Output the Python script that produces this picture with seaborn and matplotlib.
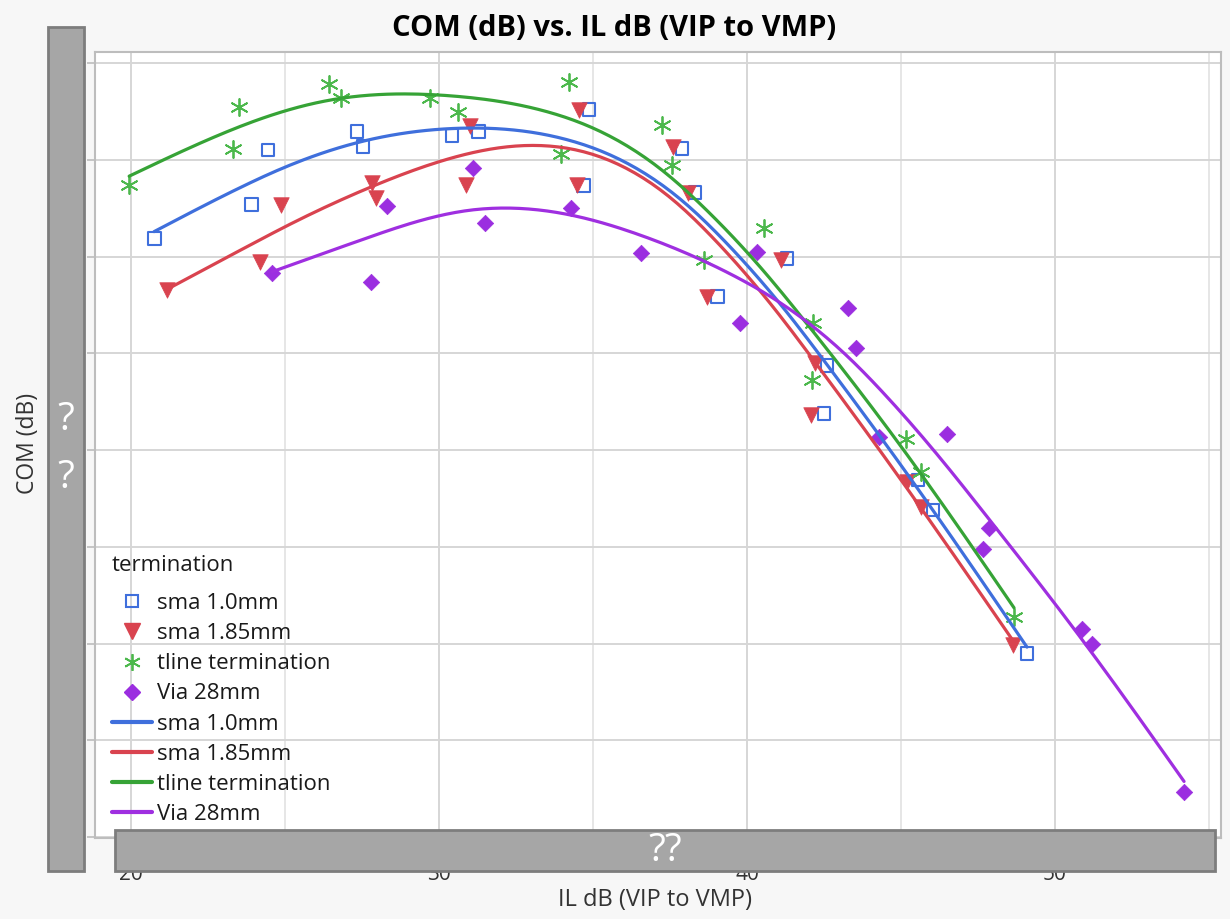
import numpy as np
import pandas as pd
import matplotlib
matplotlib.use("Agg")
import matplotlib.pyplot as plt
from matplotlib.lines import Line2D
from matplotlib.patches import Rectangle
import seaborn as sns

# ---------------- data ----------------
groups = ["sma 1.0mm", "sma 1.85mm", "tline termination", "Via 28mm"]

sma10_il = [20.75, 23.90, 24.45, 27.34, 27.53, 30.42, 31.27, 34.87, 34.68,
            37.89, 38.31, 41.30, 39.03, 42.60, 42.50, 45.55, 46.04, 49.09]
sma10_com = [6.19, 6.54, 7.10, 7.29, 7.14, 7.25, 7.29, 7.52, 6.73,
             7.12, 6.66, 5.98, 5.59, 4.87, 4.38, 3.69, 3.38, 1.90]

sma185_il = [21.17, 24.19, 24.87, 27.82, 27.95, 30.88, 31.01, 34.55, 34.48,
             37.60, 38.08, 41.10, 38.70, 42.21, 42.08, 45.19, 45.65, 48.64]
sma185_com = [5.65, 5.94, 6.53, 6.76, 6.60, 6.74, 7.35, 7.51, 6.74,
              7.13, 6.66, 5.96, 5.58, 4.90, 4.36, 3.67, 3.41, 1.98]

tline_il = [19.94, 23.31, 23.51, 26.43, 26.82, 29.71, 30.62, 33.96, 34.22,
            37.24, 37.56, 38.60, 40.55, 42.14, 42.11, 45.16, 45.65, 48.67]
tline_com = [6.74, 7.11, 7.55, 7.78, 7.64, 7.64, 7.49, 7.06, 7.80,
             7.36, 6.95, 5.96, 6.29, 5.31, 4.72, 4.11, 3.77, 2.27]

via_il = [24.58, 27.79, 28.31, 31.10, 31.49, 34.29, 36.56, 40.32, 39.77,
          43.28, 43.54, 44.29, 46.49, 47.86, 47.66, 50.88, 51.20, 54.19]
via_com = [5.83, 5.74, 6.52, 6.91, 6.35, 6.50, 6.04, 6.05, 5.31,
           5.47, 5.05, 4.13, 4.17, 3.19, 2.98, 2.15, 1.99, 0.47]

x_ticks = [20, 30, 40, 50]
y_ticks = [0, 1, 2, 3, 4, 5, 6, 7, 8]

series = {
    "sma 1.0mm": (sma10_il, sma10_com),
    "sma 1.85mm": (sma185_il, sma185_com),
    "tline termination": (tline_il, tline_com),
    "Via 28mm": (via_il, via_com),
}
df = pd.concat(
    [pd.DataFrame({"IL": v[0], "COM": v[1], "termination": k}) for k, v in series.items()],
    ignore_index=True,
)

SMOOTH_LAMBDA = 0.0009   # smoothing-spline penalty (x rescaled to 0..1)


def smoothing_spline(x, y, lam, n_grid=200):
    """Cubic smoothing spline (Reinsch form) fitted to the data points."""
    order = np.argsort(x)
    x = np.asarray(x, float)[order]
    y = np.asarray(y, float)[order]
    x0, x1 = x[0], x[-1]
    t = (x - x0) / (x1 - x0)
    n = len(t)
    h = np.diff(t)
    Q = np.zeros((n, n - 2))
    R = np.zeros((n - 2, n - 2))
    for j in range(1, n - 1):
        c = j - 1
        Q[j - 1, c] = 1 / h[j - 1]
        Q[j, c] = -1 / h[j - 1] - 1 / h[j]
        Q[j + 1, c] = 1 / h[j]
        R[c, c] = (h[j - 1] + h[j]) / 3
        if c + 1 < n - 2:
            R[c, c + 1] = h[j] / 6
            R[c + 1, c] = h[j] / 6
    gamma = np.linalg.solve(R + lam * Q.T @ Q, Q.T @ y)
    g = y - lam * Q @ gamma
    gam = np.concatenate([[0.0], gamma, [0.0]])
    grid = np.linspace(x0, x1, n_grid)
    tg = (grid - x0) / (x1 - x0)
    i = np.clip(np.searchsorted(t, tg) - 1, 0, n - 2)
    hi = h[i]
    a = tg - t[i]
    b = t[i + 1] - tg
    val = (a * g[i + 1] + b * g[i]) / hi - a * b / 6 * ((1 + a / hi) * gam[i + 1] + (1 + b / hi) * gam[i])
    return grid, val


# ---------------- styles ----------------
line_colors = {"sma 1.0mm": "#3f6fdc", "sma 1.85mm": "#d9434f",
               "tline termination": "#36a336", "Via 28mm": "#9f2fe0"}
mark_colors = {"sma 1.0mm": "#3f6fdc", "sma 1.85mm": "#d9434f",
               "tline termination": "#4cb84c", "Via 28mm": "#9b2ee0"}

W, H = 1230, 919
sns.set_theme(style="whitegrid")
plt.rcParams["font.family"] = ["Open Sans", "DejaVu Sans"]

fig = plt.figure(figsize=(W / 100, H / 100), dpi=100, facecolor="#f7f7f7")
L, R, T, B = 95, 1221, 52, 838
ax = fig.add_axes([L / W, 1 - B / H, (R - L) / W, (B - T) / H])
ax.set_facecolor("white")

# scatter points
sub = df[df.termination == "sma 1.0mm"]
sns.scatterplot(data=sub, x="IL", y="COM", ax=ax, marker="s", s=85,
                color=mark_colors["sma 1.0mm"], facecolor="none",
                edgecolor=mark_colors["sma 1.0mm"], linewidth=1.5, legend=False, zorder=3)
sub = df[df.termination == "sma 1.85mm"]
sns.scatterplot(data=sub, x="IL", y="COM", ax=ax, marker="v", s=125,
                color=mark_colors["sma 1.85mm"], edgecolor=mark_colors["sma 1.85mm"],
                linewidth=0.5, legend=False, zorder=3)
sub = df[df.termination == "tline termination"]
sns.scatterplot(data=sub, x="IL", y="COM", ax=ax, marker=(6, 2, 0), s=150,
                color=mark_colors["tline termination"], linewidth=1.3, legend=False, zorder=3)
sub = df[df.termination == "Via 28mm"]
sns.scatterplot(data=sub, x="IL", y="COM", ax=ax, marker="D", s=70,
                color=mark_colors["Via 28mm"], edgecolor=mark_colors["Via 28mm"],
                linewidth=0.5, legend=False, zorder=3)

# smoother curves
for g in groups:
    sub = df[df.termination == g]
    gx, gy = smoothing_spline(sub["IL"].values, sub["COM"].values, SMOOTH_LAMBDA)
    sns.lineplot(x=gx, y=gy, ax=ax, color=line_colors[g], linewidth=2.3, zorder=4,
                 sort=False, estimator=None)

# axes limits / grid
x_per_px = 30 / (1055 - 131)
ax.set_xlim(20 - (131 - L) * x_per_px, 20 + (R - 131) * x_per_px)
y_per_px = 1 / 96.75
ax.set_ylim((837 - B) * y_per_px, (837 - T) * y_per_px)
ax.set_xticks(x_ticks)
ax.set_xticks([25, 35, 45, 55], minor=True)
ax.set_yticks(y_ticks)
ax.set_yticklabels([""] * len(y_ticks))   # hidden behind the grey box in the reference
ax.grid(True, which="major", color="#d6d6d6", linewidth=1.4)
ax.grid(True, which="minor", axis="x", color="#e2e2e2", linewidth=1.2)
for sp in ax.spines.values():
    sp.set_color("#bdbdbd")
    sp.set_linewidth(1.5)
ax.tick_params(axis="both", which="major", length=6, width=1.2, color="#bdbdbd",
               labelsize=15, labelcolor="#333333", pad=5, left=True, bottom=True)
ax.tick_params(axis="x", which="major", pad=13)
ax.tick_params(axis="x", which="minor", length=0)

ax.set_xlabel("IL dB (VIP to VMP)", fontsize=17, color="#333333")
ax.set_ylabel("COM (dB)", fontsize=16.5, color="#333333")
ax.xaxis.set_label_coords((655 - L) / (R - L), (B - 900) / (B - T))
ax.xaxis.label.set_va("center")
ax.yaxis.set_label_coords((28 - L) / (R - L), (B - 443) / (B - T))
ax.yaxis.label.set_va("center")

fig.text(614 / W, 1 - 28 / H, "COM (dB) vs. IL dB (VIP to VMP)", ha="center", va="center",
         fontsize=21, fontweight="bold", color="black")

# legend
handles = [
    Line2D([], [], linestyle="none", marker="s", markersize=9, markerfacecolor="none",
           markeredgecolor=mark_colors["sma 1.0mm"], markeredgewidth=1.5),
    Line2D([], [], linestyle="none", marker="v", markersize=11,
           color=mark_colors["sma 1.85mm"]),
    Line2D([], [], linestyle="none", marker=(6, 2, 0), markersize=12,
           color=mark_colors["tline termination"], markeredgewidth=1.3),
    Line2D([], [], linestyle="none", marker="D", markersize=8,
           color=mark_colors["Via 28mm"]),
] + [Line2D([], [], color=line_colors[g], linewidth=3) for g in groups]
labels = groups + groups
leg = ax.legend(handles, labels, title="termination", loc="upper left",
                bbox_to_anchor=(112 / W, 1 - 555 / H), bbox_transform=fig.transFigure,
                frameon=False, fontsize=16, title_fontsize=16, alignment="left",
                borderpad=0, borderaxespad=0, handlelength=1.8, handletextpad=0.22,
                labelspacing=0.41)
leg._legend_box.sep = leg._legend_box.sep + 8 * 0.72
for t in leg.get_texts():
    t.set_color("#1a1a1a")
leg.get_title().set_color("#1a1a1a")

# redaction boxes as in the reference
fig.add_artist(Rectangle((48 / W, 1 - 871 / H), 36 / W, (871 - 27) / H, transform=fig.transFigure,
                         facecolor="#a6a6a6", edgecolor="#7d7d7d", linewidth=2, zorder=10))
fig.add_artist(Rectangle((115 / W, 1 - 871 / H), 1100 / W, 41 / H, transform=fig.transFigure,
                         facecolor="#a6a6a6", edgecolor="#7d7d7d", linewidth=2, zorder=10))
for yy in (420, 478):
    fig.text(66 / W, 1 - yy / H, "?", ha="center", va="center", fontsize=28,
             color="white", zorder=11)
fig.text(665 / W, 1 - 851 / H, "??", ha="center", va="center", fontsize=28,
         color="white", zorder=11)

fig.savefig("out.png", dpi=100, facecolor=fig.get_facecolor())
